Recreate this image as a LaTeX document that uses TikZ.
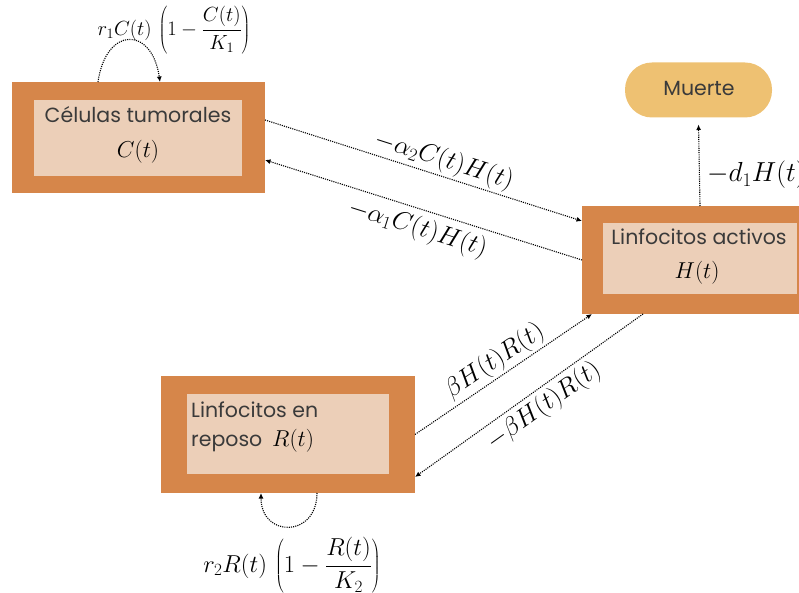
\RequirePackage{fix-cm}
\documentclass[tikz,border=0pt]{standalone}
\usepackage{fontspec}
\newfontfamily\boxfont{Poppins}
\usetikzlibrary{arrows.meta,calc}
\definecolor{outerorange}{RGB}{214,134,74}
\definecolor{innerpeach}{RGB}{236,207,184}
\definecolor{deathgold}{RGB}{238,193,114}
\definecolor{labelgrey}{RGB}{58,58,58}
\tikzset{
  outerbox/.style={fill=outerorange, inner sep=0pt, outer sep=0pt},
  innerbox/.style={fill=innerpeach, inner sep=0pt, outer sep=0pt},
  pillbox/.style={fill=deathgold, rounded corners=27pt, inner sep=0pt, outer sep=0pt},
  boxtext/.style={text=labelgrey, inner sep=0pt, font=\boxfont\fontsize{20.5}{24}\selectfont},
  boxvar/.style={inner sep=0pt, font=\fontsize{23}{27}\selectfont},
  rate/.style={inner sep=2pt, font=\fontsize{26}{30}\selectfont},
  flow/.style={line width=1.1pt, dash pattern=on 1.1pt off 1.1pt, -{Latex[length=5.5pt,width=5pt]}}
}
\begin{document}
\begin{tikzpicture}[x=1pt,y=-1pt]
\useasboundingbox (0,0) rectangle (799,593);

% compartments
\node[outerbox, minimum width=253pt, minimum height=111pt] (C) at (138.5,137.5) {};
\node[innerbox, minimum width=208pt, minimum height=76pt] (Ci) at (138,138) {};
\node[boxtext, anchor=base] (Ct) at (138,123) {Células tumorales};
\node[boxvar, anchor=base] (Cv) at (138,158) {$C(t)$};

\node[outerbox, minimum width=236pt, minimum height=108pt] (H) at (700,260) {};
\node[innerbox, minimum width=194pt, minimum height=71pt] (Hi) at (700,258.5) {};
\node[boxtext, anchor=base] (Ht) at (699,245) {Linfocitos activos};
\node[boxvar, anchor=base] (Hv) at (697,278) {$H(t)$};

\node[outerbox, minimum width=254pt, minimum height=117pt] (R) at (288,434.5) {};
\node[innerbox, minimum width=202pt, minimum height=80pt] (Ri) at (288,434) {};
\node[boxtext, anchor=base west] (Rt1) at (191,417) {Linfocitos en};
\node[boxtext, anchor=base west] (Rt2) at (191,446) {reposo};
\node[boxvar, anchor=base west] (Rv) at (272,446) {$R(t)$};

\node[pillbox, minimum width=147pt, minimum height=55pt] (M) at (698.5,90) {};
\node[boxtext, anchor=base] (Mt) at (699,96) {Muerte};

% exchange between tumour cells and active lymphocytes
\coordinate (c1) at ($(C.north east)+(0,38)$);
\coordinate (c2) at ($(C.north east)+(0,78)$);
\coordinate (h1) at ($(H.north west)+(0,15)$);
\draw[flow] (c1) -- node[rate, sloped, above, pos=0.55] {$-\alpha_2C(t)H(t)$} (h1);
\draw[flow] (H.west) -- node[rate, sloped, below, pos=0.50, inner sep=6pt] {$-\alpha_1C(t)H(t)$} (c2);

% exchange between resting and active lymphocytes
\coordinate (h2) at ($(H.south west)+(10,0)$);
\coordinate (h3) at ($(H.south west)+(61,0)$);
\coordinate (r1) at ($(R.south east)+(0,-16)$);
\draw[flow] (R.east) -- node[rate, sloped, above, pos=0.5] {$\beta H(t)R(t)$} (h2);
\draw[flow] (h3) -- node[rate, sloped, below, pos=0.48, inner sep=4pt] {$-\beta H(t)R(t)$} (r1);

% death of active lymphocytes
\coordinate (m1) at ($(M.south)+(0,7)$);
\draw[flow] (H.north) -- (m1);
\node[inner sep=0pt, font=\fontsize{27.5}{32}\selectfont, anchor=base west] (dl) at (707,182) {$-d_1H(t)$};

% logistic growth loops
\coordinate (cl1) at ($(C.north west)+(86,0)$);
\coordinate (cl2) at ($(C.north west)+(148,0)$);
\draw[flow] (cl1) .. controls ($(cl1)+(8,-56)$) and ($(cl2)+(-8,-56)$) .. (cl2);
\node[inner sep=0pt, font=\fontsize{20.5}{25}\selectfont] (cg) at (174,30)
  {$\displaystyle r_1C(t)\,\left(1-\frac{C(t)}{K_1}\right)$};

\coordinate (rl1) at ($(R.south west)+(156,0)$);
\coordinate (rl2) at ($(R.south west)+(100,0)$);
\draw[flow] (rl1) .. controls ($(rl1)+(0,45)$) and ($(rl2)+(0,45)$) .. (rl2);
\node[inner sep=0pt, font=\fontsize{24.5}{29}\selectfont] (rg) at (292,565)
  {$\displaystyle r_2R(t)\,\left(1-\frac{R(t)}{K_2}\right)$};
\end{tikzpicture}
\end{document}
